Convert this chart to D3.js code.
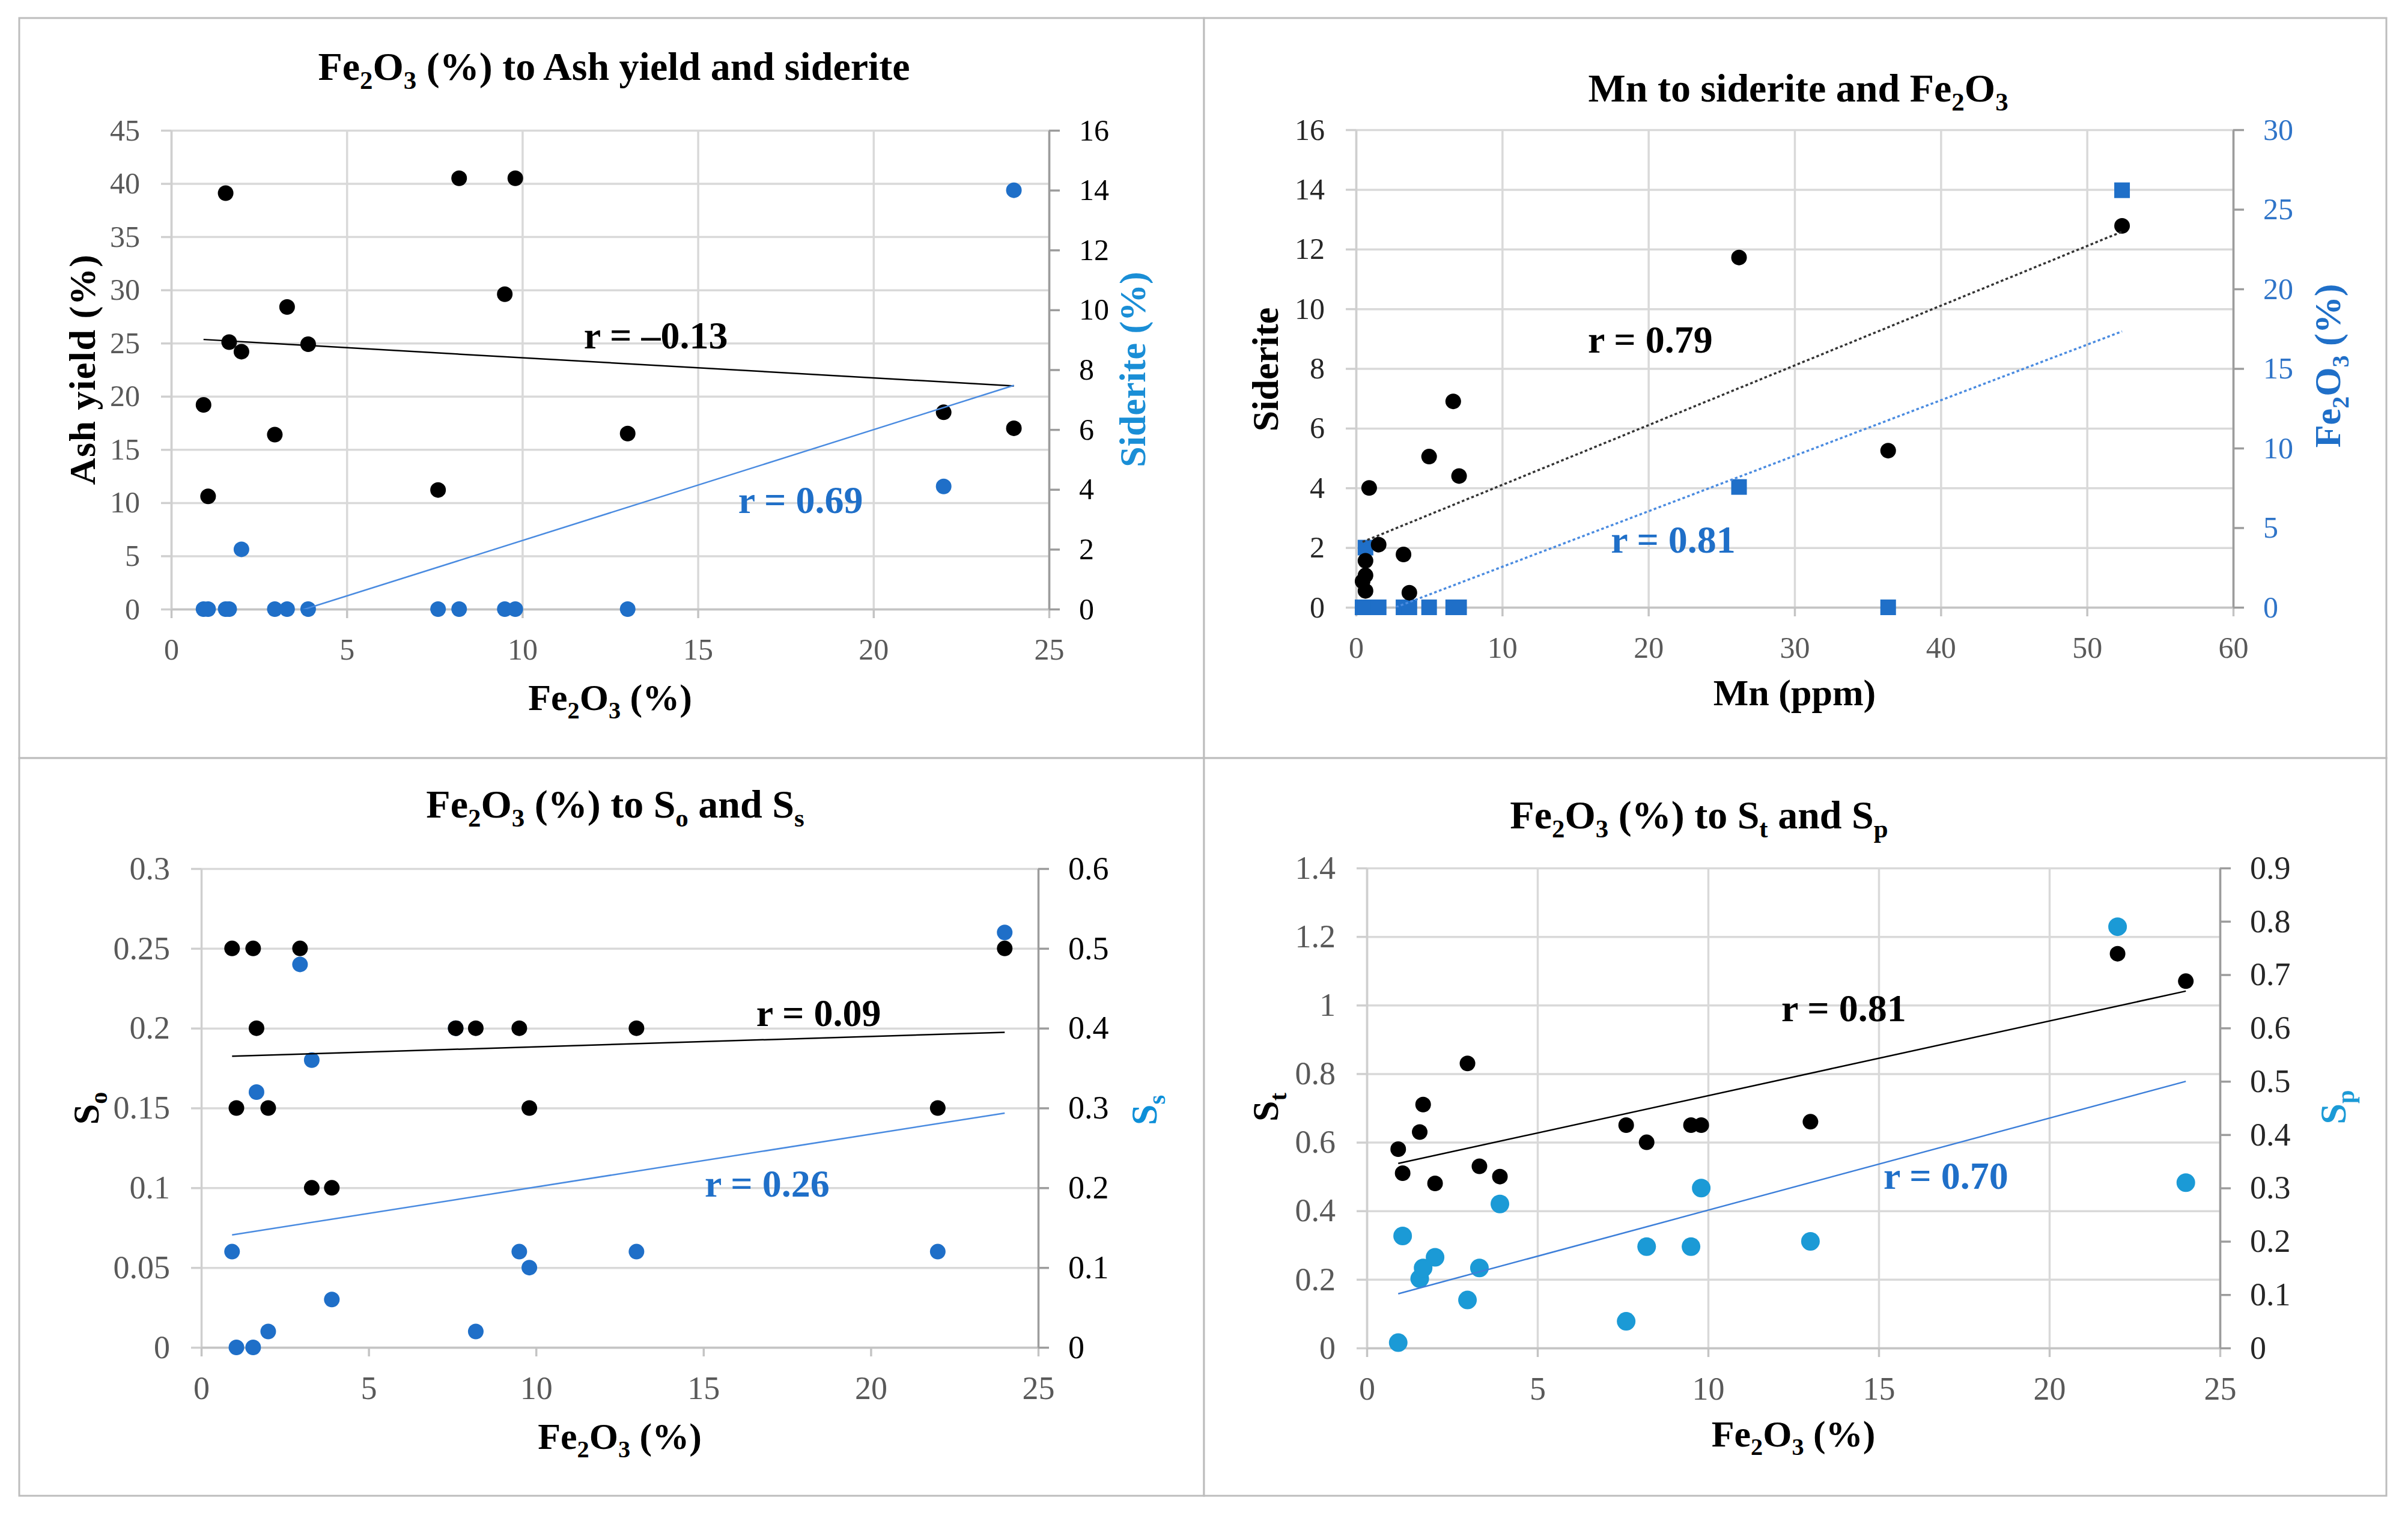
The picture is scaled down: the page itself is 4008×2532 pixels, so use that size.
<!DOCTYPE html>
<html>
<head>
<meta charset="utf-8">
<script src="https://cdn.jsdelivr.net/npm/d3@7"></script>
<style>
  body { margin: 0; background: #fff; }
  svg text { font-family: "Liberation Serif", "Times New Roman", serif; }
</style>
</head>
<body>
<svg id="chart"></svg>
<script>
const W = 4008, H = 2532;
const SERIF = '"Liberation Serif", "Times New Roman", serif';

// Fe2O3 (%) of the samples, shared x for the Fe2O3 panels
const fe2o3 = [0.92, 1.05, 1.55, 1.65, 2.0, 2.95, 3.3, 3.9, 7.6, 8.2, 9.5, 9.8, 13.0, 22.0, 24.0];
const ashYield = [19.2, 10.6, 39.1, 25.1, 24.2, 16.4, 28.4, 24.9, 11.2, 40.5, 29.6, 40.5, 16.5, 18.5, 17.0];
const sideriteA = [0, 0, 0, 0, 2.0, 0, 0, 0, 0, 0, 0, 0, 0, 4.1, 14.0];

// Mn panel
const mn = [0.45, 0.65, 0.65, 0.65, 0.9, 1.55, 3.25, 3.65, 5.0, 6.65, 7.05, 26.2, 36.4, 52.4];
const sideriteB = [0.87, 0.55, 1.07, 1.56, 4.0, 2.1, 1.77, 0.49, 5.05, 6.9, 4.4, 11.72, 5.25, 12.78];
const fe2o3B = [0, 3.75, 0, 0, 0, 0, 0, 0, 0, 0, 0, 7.56, 0, 26.2];

// sulfur forms
const sOrganic = [0.25, 0.15, 0.25, 0.2, 0.15, 0.25, 0.1, 0.1, 0.2, 0.2, 0.2, 0.15, 0.2, 0.15, 0.25];
const sSulfate = [0.12, 0, 0, 0.32, 0.02, 0.48, 0.36, 0.06, 0.40, 0.02, 0.12, 0.10, 0.12, 0.12, 0.52];
const sTotal = [0.58, 0.51, 0.63, 0.71, 0.48, 0.83, 0.53, 0.50, 0.65, 0.60, 0.65, 0.65, 0.66, 1.15, 1.07];
const sPyritic = [0.01, 0.21, 0.13, 0.15, 0.17, 0.09, 0.15, 0.27, 0.05, 0.19, 0.19, 0.30, 0.20, 0.79, 0.31];

// correlation labels
const rLabels = ["r = \u20130.13", "r = 0.69", "r = 0.79", "r = 0.81", "r = 0.09", "r = 0.26", "r = 0.81", "r = 0.70"];

// tick values
const feTicks = [0, 5, 10, 15, 20, 25];
const ashTicks = [0, 5, 10, 15, 20, 25, 30, 35, 40, 45];
const sidTicks = [0, 2, 4, 6, 8, 10, 12, 14, 16];
const mnTicks = [0, 10, 20, 30, 40, 50, 60];
const feRightTicks = [0, 5, 10, 15, 20, 25, 30];
const soTicks = [0, 0.05, 0.1, 0.15, 0.2, 0.25, 0.3];
const ssTicks = [0, 0.1, 0.2, 0.3, 0.4, 0.5, 0.6];
const stTicks = [0, 0.2, 0.4, 0.6, 0.8, 1, 1.2, 1.4];
const spTicks = [0, 0.1, 0.2, 0.3, 0.4, 0.5, 0.6, 0.7, 0.8, 0.9];

const BLUE = "#1f6fc8", LIGHTBLUE = "#1b9ad6", TRENDBLUE = "#4a8be0";
const GRID = "#d9d9d9", GRAYTXT = "#595959";

const svg = d3.select("#chart").attr("width", W).attr("height", H);
svg.append("rect").attr("width", W).attr("height", H).attr("fill", "#fff");

// text with subscripts: plain strings, or one-element arrays for subscripts
function richText(sel, parts, size) {
  const shift = size * 0.22;
  let down = false;
  sel.style("font-family", SERIF);
  parts.forEach(p => {
    const t = sel.append("tspan");
    if (Array.isArray(p)) {
      t.text(p[0]).attr("font-size", size * 0.65);
      if (!down) t.attr("dy", shift);
      down = true;
    } else {
      t.text(p);
      if (down) t.attr("dy", -shift);
      down = false;
    }
  });
  return sel;
}

function linFit(xs, ys) {
  const mx = d3.mean(xs), my = d3.mean(ys);
  let sxy = 0, sxx = 0;
  xs.forEach((v, i) => { sxy += (v - mx) * (ys[i] - my); sxx += (v - mx) * (v - mx); });
  const b = sxy / sxx;
  return v => my + b * (v - mx);
}

function styleTicks(a, color, size) {
  a.attr("font-family", null).attr("font-size", null);
  a.selectAll("text").attr("fill", color).style("font-size", size + "px").style("font-family", SERIF);
}

let clipId = 0;

function panel(cfg) {
  const g = svg.append("g");
  const p = cfg.plot;
  const [bx0, by0, bx1, by1] = cfg.box;

  g.append("rect")
    .attr("x", bx0).attr("y", by0).attr("width", bx1 - bx0).attr("height", by1 - by0)
    .attr("fill", "#fff").attr("stroke", "#bdbdbd").attr("stroke-width", 3);

  const x = d3.scaleLinear().domain(cfg.xDomain).range([p.l, p.r]);
  const yL = d3.scaleLinear().domain(cfg.yL.domain).range([p.b, p.t]);
  const yR = d3.scaleLinear().domain(cfg.yR.domain).range([p.b, p.t]);
  const ys = { L: yL, R: yR };

  // horizontal gridlines
  g.append("g").attr("transform", `translate(${p.l},0)`)
    .call(d3.axisLeft(yL).tickValues(cfg.yL.ticks).tickSize(-(p.r - p.l)).tickFormat(""))
    .call(a => a.select(".domain").remove())
    .call(a => a.selectAll("line").attr("stroke", GRID).attr("stroke-width", 3.5));

  // vertical gridlines
  if (cfg.vGrid) {
    g.append("g").attr("transform", `translate(0,${p.t})`)
      .call(d3.axisBottom(x).tickValues(cfg.xTicks).tickSize(p.b - p.t).tickFormat(""))
      .call(a => a.select(".domain").remove())
      .call(a => a.selectAll("line").attr("stroke", GRID).attr("stroke-width", 3.5));
  }

  // left axis
  g.append("g").attr("transform", `translate(${p.l},0)`)
    .call(d3.axisLeft(yL).tickValues(cfg.yL.ticks).tickSize(17).tickSizeOuter(0).tickPadding(35).tickFormat(v => String(v)))
    .call(a => a.select(".domain").attr("stroke", "#cfcfcf").attr("stroke-width", 3.5))
    .call(a => a.selectAll("line").attr("stroke", "#cfcfcf").attr("stroke-width", 3.5))
    .call(a => styleTicks(a, cfg.yL.color, cfg.tickSize));

  // bottom axis
  g.append("g").attr("transform", `translate(0,${p.b})`)
    .call(d3.axisBottom(x).tickValues(cfg.xTicks).tickSize(15).tickSizeOuter(0).tickPadding(33).tickFormat(v => String(v)))
    .call(a => a.select(".domain").attr("stroke", "#c4c4c4").attr("stroke-width", 3.5))
    .call(a => a.selectAll("line").attr("stroke", "#c4c4c4").attr("stroke-width", 3.5))
    .call(a => styleTicks(a, GRAYTXT, cfg.tickSize));

  // right axis
  g.append("g").attr("transform", `translate(${p.r},0)`)
    .call(d3.axisRight(yR).tickValues(cfg.yR.ticks).tickSize(18).tickSizeOuter(0).tickPadding(32).tickFormat(v => String(v)))
    .call(a => a.select(".domain").attr("stroke", "#9c9c9c").attr("stroke-width", 3.5))
    .call(a => a.selectAll("line").attr("stroke", "#9c9c9c").attr("stroke-width", 3.5))
    .call(a => styleTicks(a, cfg.yR.color, cfg.tickSize));

  // markers
  cfg.series.forEach(s => {
    const y = ys[s.axis];
    const pts = s.x.map((v, i) => [v, s.y[i]]);
    if (s.shape === "square") {
      g.append("g").selectAll("rect").data(pts).enter().append("rect")
        .attr("x", d => x(d[0]) - s.size / 2).attr("y", d => y(d[1]) - s.size / 2)
        .attr("width", s.size).attr("height", s.size).attr("fill", s.color);
    } else {
      g.append("g").selectAll("circle").data(pts).enter().append("circle")
        .attr("cx", d => x(d[0])).attr("cy", d => y(d[1])).attr("r", s.size / 2).attr("fill", s.color);
    }
  });

  // trend lines, clipped to the plot area
  const cid = "clip" + (clipId++);
  g.append("clipPath").attr("id", cid).append("rect")
    .attr("x", p.l).attr("y", p.t).attr("width", p.r - p.l).attr("height", p.b - p.t);
  cfg.trends.forEach(t => {
    const y = ys[t.axis];
    const f = linFit(t.x, t.y);
    const ext = d3.extent(t.x);
    g.append("path")
      .datum(ext)
      .attr("clip-path", `url(#${cid})`)
      .attr("d", d3.line().x(v => x(v)).y(v => y(f(v))))
      .attr("fill", "none").attr("stroke", t.color).attr("stroke-width", t.dash ? 3.5 : 2.5)
      .attr("stroke-dasharray", t.dash || null);
  });

  // r labels
  cfg.labels.forEach(l => {
    g.append("text").attr("x", x(l.x)).attr("y", ys[l.axis](l.y))
      .style("font-family", SERIF)
      .attr("font-size", 64).attr("font-weight", "bold").attr("fill", l.color)
      .text(l.text);
  });

  // chart title
  richText(g.append("text").attr("x", cfg.title.x).attr("y", cfg.title.y)
    .attr("text-anchor", "middle").attr("font-size", 66).attr("font-weight", "bold").attr("fill", "#000"),
    cfg.title.parts, 66);

  // x axis title
  richText(g.append("text").attr("x", (p.l + p.r) / 2).attr("y", cfg.xTitle.y)
    .attr("text-anchor", "middle").attr("font-size", 62).attr("font-weight", "bold").attr("fill", "#000"),
    cfg.xTitle.parts, 62);

  // y axis titles (rotated)
  [cfg.yL.title, cfg.yR.title].forEach(t => {
    const txt = g.append("text")
      .attr("transform", `translate(${t.x + 62 * 0.34},${t.y}) rotate(-90)`)
      .attr("text-anchor", "middle").attr("font-size", 62).attr("font-weight", "bold")
      .attr("fill", t.color).attr("letter-spacing", t.spacing || 0);
    richText(txt, t.parts, 62);
  });
}

const fe2o3Title = ["Fe", ["2"], "O", ["3"], " (%)"];

panel({
  box: [32, 30, 2004, 1262],
  plot: { l: 285, r: 1746, t: 217, b: 1014 },
  xDomain: [0, 25], xTicks: feTicks, vGrid: true, tickSize: 50,
  yL: { domain: [0, 45], ticks: ashTicks, color: GRAYTXT,
        title: { parts: ["Ash yield (%)"], x: 137, y: 615, color: "#000", spacing: 1.5 } },
  yR: { domain: [0, 16], ticks: sidTicks, color: "#000",
        title: { parts: ["Siderite (%)"], x: 1885, y: 615, color: "#1a8ed6" } },
  series: [
    { x: fe2o3, y: sideriteA, axis: "R", color: BLUE, shape: "circle", size: 26 },
    { x: fe2o3, y: ashYield, axis: "L", color: "#000", shape: "circle", size: 26 }
  ],
  trends: [
    { x: fe2o3, y: ashYield, axis: "L", color: "#000" },
    { x: fe2o3, y: sideriteA, axis: "R", color: TRENDBLUE }
  ],
  labels: [
    { text: rLabels[0], x: 11.75, y: 24.5, axis: "L", color: "#000" },
    { text: rLabels[1], x: 16.15, y: 9.03, axis: "L", color: BLUE }
  ],
  title: { parts: ["Fe", ["2"], "O", ["3"], " (%) to Ash yield and siderite"], x: 1022, y: 133 },
  xTitle: { parts: fe2o3Title, y: 1182 }
});

panel({
  box: [2004, 30, 3972, 1262],
  plot: { l: 2257, r: 3717, t: 216, b: 1011 },
  xDomain: [0, 60], xTicks: mnTicks, vGrid: true, tickSize: 50,
  yL: { domain: [0, 16], ticks: sidTicks, color: "#262626",
        title: { parts: ["Siderite"], x: 2106, y: 615, color: "#000" } },
  yR: { domain: [0, 30], ticks: feRightTicks, color: "#2f74c8",
        title: { parts: fe2o3Title, x: 3874, y: 609, color: BLUE } },
  series: [
    { x: mn, y: fe2o3B, axis: "R", color: BLUE, shape: "square", size: 26 },
    { x: mn, y: sideriteB, axis: "L", color: "#000", shape: "circle", size: 26 }
  ],
  trends: [
    { x: mn, y: sideriteB, axis: "L", color: "#333", dash: "4.5,4" },
    { x: mn, y: fe2o3B, axis: "R", color: TRENDBLUE, dash: "4.5,4" }
  ],
  labels: [
    { text: rLabels[2], x: 15.86, y: 8.53, axis: "L", color: "#000" },
    { text: rLabels[3], x: 17.43, y: 1.83, axis: "L", color: BLUE }
  ],
  title: { parts: ["Mn to siderite and Fe", ["2"], "O", ["3"]], x: 2993, y: 169 },
  xTitle: { parts: ["Mn (ppm)"], y: 1174 }
});

panel({
  box: [32, 1262, 2004, 2490],
  plot: { l: 335, r: 1728, t: 1446, b: 2243 },
  xDomain: [0, 25], xTicks: feTicks, vGrid: false, tickSize: 54,
  yL: { domain: [0, 0.3], ticks: soTicks, color: GRAYTXT,
        title: { parts: ["S", ["o"]], x: 143, y: 1845, color: "#000" } },
  yR: { domain: [0, 0.6], ticks: ssTicks, color: "#000",
        title: { parts: ["S", ["s"]], x: 1904, y: 1848, color: "#0d8fd8" } },
  series: [
    { x: fe2o3, y: sSulfate, axis: "R", color: BLUE, shape: "circle", size: 26 },
    { x: fe2o3, y: sOrganic, axis: "L", color: "#000", shape: "circle", size: 26 }
  ],
  trends: [
    { x: fe2o3, y: sOrganic, axis: "L", color: "#000" },
    { x: fe2o3, y: sSulfate, axis: "R", color: TRENDBLUE }
  ],
  labels: [
    { text: rLabels[4], x: 16.58, y: 0.2014, axis: "L", color: "#000" },
    { text: rLabels[5], x: 15.04, y: 0.0945, axis: "L", color: BLUE }
  ],
  title: { parts: ["Fe", ["2"], "O", ["3"], " (%) to S", ["o"], " and S", ["s"]], x: 1024, y: 1361 },
  xTitle: { parts: fe2o3Title, y: 2412 }
});

panel({
  box: [2004, 1262, 3972, 2490],
  plot: { l: 2275, r: 3695, t: 1445, b: 2244 },
  xDomain: [0, 25], xTicks: feTicks, vGrid: true, tickSize: 54,
  yL: { domain: [0, 1.4], ticks: stTicks, color: GRAYTXT,
        title: { parts: ["S", ["t"]], x: 2106, y: 1843, color: "#000" } },
  yR: { domain: [0, 0.9], ticks: spTicks, color: "#262626",
        title: { parts: ["S", ["p"]], x: 3883, y: 1843, color: LIGHTBLUE } },
  series: [
    { x: fe2o3, y: sPyritic, axis: "R", color: LIGHTBLUE, shape: "circle", size: 31 },
    { x: fe2o3, y: sTotal, axis: "L", color: "#000", shape: "circle", size: 26 }
  ],
  trends: [
    { x: fe2o3, y: sTotal, axis: "L", color: "#000" },
    { x: fe2o3, y: sPyritic, axis: "R", color: "#3d7fd9" }
  ],
  labels: [
    { text: rLabels[6], x: 12.15, y: 0.953, axis: "L", color: "#000" },
    { text: rLabels[7], x: 15.14, y: 0.464, axis: "L", color: BLUE }
  ],
  title: { parts: ["Fe", ["2"], "O", ["3"], " (%) to S", ["t"], " and S", ["p"]], x: 2828, y: 1379 },
  xTitle: { parts: fe2o3Title, y: 2408 }
});
</script>
</body>
</html>
